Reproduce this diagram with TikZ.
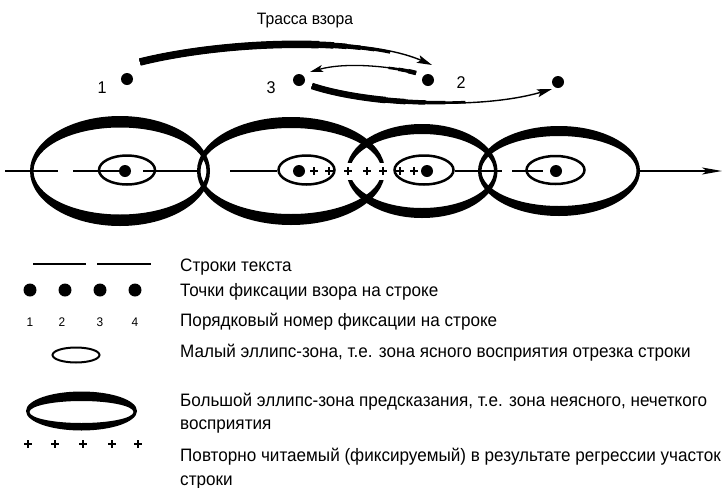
\documentclass[tikz,border=0pt]{standalone}
\usepackage{fontspec}
\setmainfont{Liberation Sans}[FakeStretch=0.95]
\usetikzlibrary{arrows.meta,calc}
\newcommand\bigring[5]{\fill[even odd rule] (#1) ellipse [x radius=#2,y radius=#3] (#1) ellipse [x radius=#4,y radius=#5];}
\begin{document}
\begin{tikzpicture}[x=1pt,y=-1pt,
  fixdot/.style={circle,fill=black,inner sep=0pt,minimum size=12pt},
  legdot/.style={circle,fill=black,inner sep=0pt,minimum size=13pt},
  txt/.style={anchor=base west,inner sep=0pt,font=\fontsize{18}{21}\selectfont},
  ttl/.style={anchor=base,inner sep=0pt,font=\fontsize{16.5}{20}\selectfont},
  num/.style={anchor=base,inner sep=0pt,font=\fontsize{17}{20}\selectfont},
  smallnum/.style={anchor=base,inner sep=0pt,font=\fontsize{12.5}{14}\selectfont},
  textline/.style={line width=2pt},
  smallell/.style={line width=2.5pt},
  crossmark/.style={inner sep=0pt,minimum size=8pt,path picture={\draw[line width=2.2pt] (path picture bounding box.north) -- (path picture bounding box.south) (path picture bounding box.west) -- (path picture bounding box.east);}},
  gapbox/.style={fill=white,inner sep=0pt,minimum width=10pt,minimum height=17pt},
  headA/.style={-{Stealth[length=15pt,width=8pt,inset=3pt]}},
  headB/.style={-{Stealth[length=13pt,width=7pt,inset=3pt]}},
  mainhead/.style={-{Stealth[length=20pt,width=7pt,inset=5pt]}},
]
\useasboundingbox (0,0) rectangle (724,488);

% title
\node[ttl] (title) at (305,24) {Трасса взора};

% top fixation dots
\node[fixdot] (d1) at (127,79) {};
\node[fixdot] (d3) at (299,80) {};
\node[fixdot] (d2) at (428,80) {};
\node[fixdot] (d4) at (558,82) {};
\node[num] (n1) at (102,93) {1};
\node[num] (n3) at (271,93) {3};
\node[num] (n2) at (461,88) {2};

% trace 1 -> 2
\coordinate (a1s) at ($(d1)+(13,-17)$);
\coordinate (a1e) at ($(d2)+(4,-15)$);
\foreach \w/\l in {7.5/180,6.5/195,5.5/208,4.5/222,3.5/236,2.5/252}
  \draw[line width=\w pt,dash pattern=on \l pt off 3000pt] (a1s) .. controls (220,42) and (360,34) .. (a1e);
\draw[line width=1.4pt,headA] (a1s) .. controls (220,42) and (360,34) .. (a1e);

% trace 2 -> 3 (regression)
\coordinate (a2s) at ($(d2)+(-12,-7)$);
\coordinate (a2e) at ($(d3)+(11,-8)$);
\foreach \w/\l in {4.5/8,3.5/18,2.5/28}
  \draw[line width=\w pt,dash pattern=on \l pt off 3000pt] (a2s) .. controls (390,66) and (345,62) .. (a2e);
\draw[line width=1.3pt,headB] (a2s) .. controls (390,66) and (345,62) .. (a2e);

% trace 3 -> 4
\coordinate (a3s) at ($(d3)+(13,6)$);
\coordinate (a3e) at ($(d4)+(-6,7)$);
\foreach \w/\l in {6.5/75,5.5/95,4.5/115,3.5/135,2.5/155}
  \draw[line width=\w pt,dash pattern=on \l pt off 3000pt] (a3s) .. controls (370,105) and (480,110) .. (a3e);
\draw[line width=1.4pt,headA] (a3s) .. controls (370,105) and (480,110) .. (a3e);

% big ellipses
\bigring{120,171}{90}{55}{86.5}{43.5}
\bigring{291,171}{94}{54}{90.5}{43}
\bigring{422,171}{75.5}{47}{72}{37}
\bigring{559,171}{81}{45}{77.5}{35}

% gaps for regression marks
\node[gapbox] (g1) at (348,171) {};
\node[gapbox] (g2) at (383,171) {};

% small ellipses
\draw[smallell] (127,170) ellipse [x radius=28,y radius=14.5];
\draw[smallell] (306.5,170) ellipse [x radius=28,y radius=14.5];
\draw[smallell] (424,170) ellipse [x radius=29.5,y radius=14.5];
\draw[smallell] (555.5,170) ellipse [x radius=29,y radius=14];

% text line
\draw[textline] (5,171) -- (58,171);
\draw[textline] (73,171) -- (125,171);
\draw[textline] (143,171) -- (197,171);
\draw[textline] (230,171) -- (277,171);
\draw[textline] (455,171) -- (502,171);
\draw[textline] (512,171) -- (543,171);
\coordinate (lineend) at (722,171);
\draw[textline,mainhead] (640,171) -- (lineend);

% fixation dots on the line
\node[fixdot] (c1) at (125,171) {};
\node[fixdot] (c2) at (299,171) {};
\node[fixdot] (c3) at (427,171) {};
\node[fixdot] (c4) at (556,171) {};

% regression marks
\foreach \x [count=\i] in {314,329,348,367,383,400,414}
  \node[crossmark] (r\i) at (\x,171) {};

% ---------- legend ----------
\draw[textline] (33,264) -- (86,264);
\draw[textline] (97,264) -- (151,264);
\foreach \x [count=\i] in {30,65,100,135}
  \node[legdot] (ld\i) at (\x,290) {};
\node[smallnum] (ln1) at (30,326) {1};
\node[smallnum] (ln2) at (62,326) {2};
\node[smallnum] (ln3) at (100,326) {3};
\node[smallnum] (ln4) at (135,326) {4};
\draw[line width=2pt] (76,355) ellipse [x radius=23.5,y radius=7.5];
\fill[even odd rule] (81.5,411) ellipse [x radius=55.5,y radius=19.5] (81.5,412) ellipse [x radius=52,y radius=11];
\foreach \x [count=\i] in {28,55,83,112,138}
  \node[crossmark] (lp\i) at (\x,444) {};

\node[txt] (t1) at (180,271) {Строки текста};
\node[txt] (t2) at (180,296) {Точки фиксации взора на строке};
\node[txt] (t3) at (180,326) {Порядковый номер фиксации на строке};
\node[txt] (t4) at (180,357) {Малый эллипс-зона, т.е. зона ясного восприятия отрезка строки};
\node[txt] (t5) at (180,406) {Большой эллипс-зона предсказания, т.е. зона неясного, нечеткого};
\node[txt] (t5b) at (180,429) {восприятия};
\node[txt] (t6) at (180,461) {Повторно читаемый (фиксируемый) в результате регрессии участок};
\node[txt] (t6b) at (180,485) {строки};
\end{tikzpicture}
\end{document}
